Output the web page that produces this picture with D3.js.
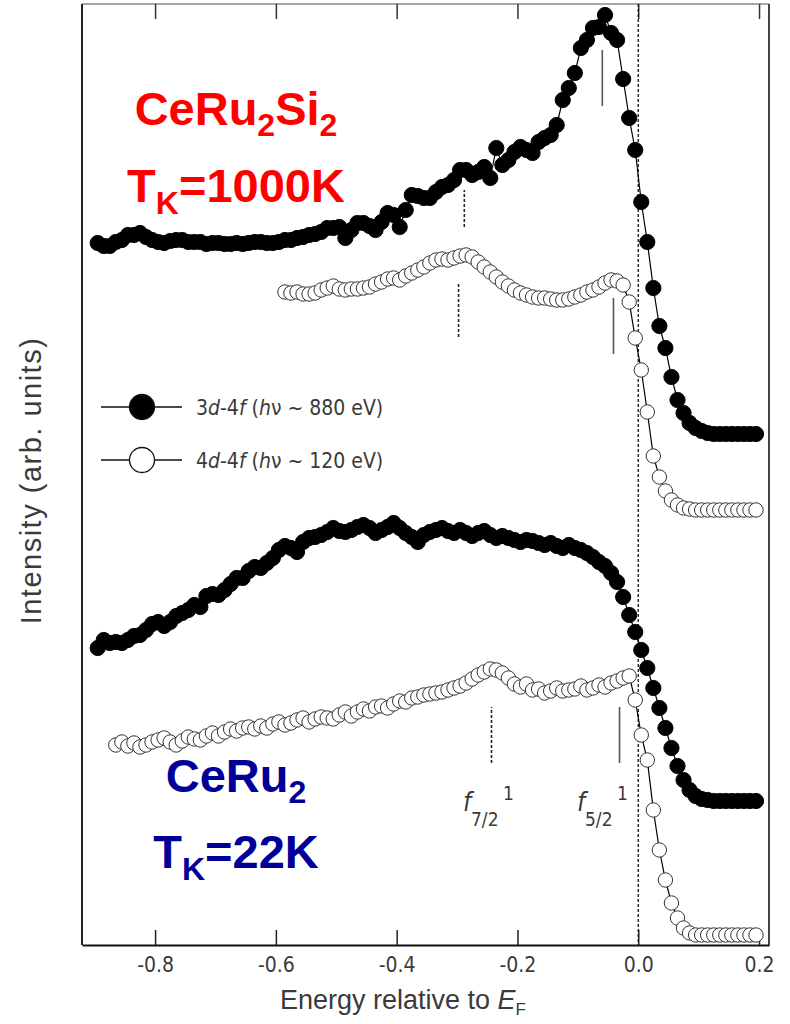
<!DOCTYPE html>
<html>
<head>
<meta charset="utf-8">
<script src="https://cdn.jsdelivr.net/npm/d3@7"></script>
<style>
  body { margin: 0; background: #fff; }
  svg { display: block; }
  .narrow { font-family: "Liberation Sans Narrow", "DejaVu Sans Condensed", "Roboto Condensed", sans-serif; font-stretch: condensed; }
  .plain { font-family: "Liberation Sans", Arial, sans-serif; }
</style>
</head>
<body>
<svg id="chart"></svg>
<script>
// energy grid (eV, relative to E_F)
const energy = [
  -0.895, -0.885, -0.875, -0.865, -0.855, -0.845, -0.835, -0.825, -0.815, -0.805,
  -0.795, -0.785, -0.775, -0.765, -0.755, -0.745, -0.735, -0.725, -0.715, -0.705,
  -0.695, -0.685, -0.675, -0.665, -0.655, -0.645, -0.635, -0.625, -0.615, -0.605,
  -0.595, -0.585, -0.575, -0.565, -0.555, -0.545, -0.535, -0.525, -0.515, -0.505,
  -0.495, -0.485, -0.475, -0.465, -0.455, -0.445, -0.435, -0.425, -0.415, -0.405,
  -0.395, -0.385, -0.375, -0.365, -0.355, -0.345, -0.335, -0.325, -0.315, -0.305,
  -0.295, -0.285, -0.275, -0.265, -0.255, -0.245, -0.235, -0.225, -0.215, -0.205,
  -0.195, -0.185, -0.175, -0.165, -0.155, -0.145, -0.135, -0.125, -0.115, -0.105,
  -0.095, -0.085, -0.075, -0.065, -0.055, -0.045, -0.035, -0.025, -0.015, -0.005,
  0.005, 0.015, 0.025, 0.035, 0.045, 0.055, 0.065, 0.075, 0.085, 0.095,
  0.105, 0.115, 0.125, 0.135, 0.145, 0.155, 0.165, 0.175, 0.185, 0.195];

// CeRu2Si2, 3d-4f (filled), full grid
const ceru2si2_3d = [
  702, 699, 699, 703, 705, 710, 710, 712, 708, 705,
  703, 702, 704, 705, 705, 703, 703, 703, 701, 702,
  702, 701, 701, 702, 701, 702, 703, 703, 702, 702,
  703, 705, 705, 707, 708, 710, 711, 713, 717, 717,
  718, 707, 715, 722, 722, 719, 715, 723, 732, 730,
  718, 735, 750, 749, 747, 747, 753, 758, 760, 765,
  775, 775, 770, 773, 778, 767, 797, 780, 785, 793,
  798, 795, 792, 803, 807, 810, 820, 845, 857, 872,
  897, 905, 917, 918, 930, 912, 905, 866, 827, 795,
  743, 703, 657, 619, 597, 568, 545, 532, 522, 517,
  514, 512, 511, 511, 511, 511, 511, 511, 511, 511];

// CeRu2Si2, 4d-4f (open), starts at -0.585
const ceru2si2_4d_start = 31;
const ceru2si2_4d = [
  653, 652, 653, 651, 651, 652, 655, 657, 659, 656,
  655, 656, 656, 657, 658, 661, 663, 666, 667, 665,
  669, 672, 675, 678, 682, 685, 686, 685, 687, 689,
  690, 688, 683, 678, 673, 668, 663, 659, 655, 652,
  650, 648, 647, 647, 646, 645, 645, 646, 648, 650,
  653, 655, 658, 662, 665, 664, 660, 643, 607,
  575, 533, 489, 468, 454, 445, 440, 437, 436,
  435, 435, 435, 435, 435, 435, 435, 435, 435, 435, 435];

// CeRu2, 3d-4f (filled), full grid
const ceru2_3d = [
  297, 305, 302, 303, 302, 305, 309, 310, 315, 321,
  323, 319, 323, 329, 332, 335, 340, 338, 349, 351,
  350, 355, 361, 367, 367, 374, 378, 377, 382, 387,
  395, 399, 397, 393, 403, 407, 408, 410, 413, 417,
  414, 413, 415, 418, 420, 417, 412, 415, 418, 422,
  417, 412, 408, 403, 410, 413, 415, 417, 414, 412,
  415, 412, 409, 412, 414, 410, 407, 409, 407, 405,
  403, 405, 404, 402, 400, 402, 399, 397, 400, 397,
  395, 392, 388, 383, 379, 372, 363, 348, 330, 313,
  295, 277, 257, 237, 217, 197, 179, 165, 155, 149,
  146, 145, 144, 144, 144, 144, 144, 144, 144, 144];

// CeRu2, 4d-4f (open), starts at -0.865
const ceru2_4d_start = 3;
const ceru2_4d = [
  200, 203, 199, 202, 198, 200, 203, 205, 207,
  203, 200, 204, 208, 206, 205, 209, 212, 209, 213,
  216, 214, 217, 218, 216, 219, 217, 221, 223, 220,
  222, 225, 227, 223, 226, 228, 227, 226, 230, 233,
  229, 233, 236, 234, 238, 239, 237, 241, 244, 243,
  247, 248, 250, 251, 252, 253, 255, 257, 259, 262,
  266, 270, 273, 276, 275, 272, 267, 261, 258, 261,
  255, 256, 252, 254, 257, 254, 255, 256, 259, 255,
  257, 260, 258, 262, 264, 267, 269, 245,
  210, 185, 135, 95, 65, 42, 27, 17, 12, 10,
  10, 10, 10, 10, 10, 10, 10, 10, 10, 10];

// peak position marks: energy, intensity from/to, dashed?
const marks = [
  { e: -0.0595, i0: 839, i1: 895, dashed: false },
  { e: -0.288, i0: 718, i1: 755, dashed: true },
  { e: -0.2975, i0: 608, i1: 663, dashed: true },
  { e: -0.041, i0: 591, i1: 647, dashed: false },
  { e: -0.243, i0: 182, i1: 238, dashed: true },
  { e: -0.031, i0: 182, i1: 238, dashed: false }];

const xTicks = [-0.8, -0.6, -0.4, -0.2, 0.0, 0.2];

const WIDTH = 790;
const HEIGHT = 1024;
const MARGIN = { top: 4, right: 21, bottom: 79, left: 82 };
const GRAY = "#3a3a3a";

const svg = d3.select("#chart")
  .attr("width", WIDTH)
  .attr("height", HEIGHT);

const xScale = d3.scaleLinear()
  .domain([-0.921, 0.2165])
  .range([MARGIN.left, WIDTH - MARGIN.right]);

const yScale = d3.scaleLinear()
  .domain([0, 941])
  .range([HEIGHT - MARGIN.bottom, MARGIN.top]);

const x0 = xScale.range()[0], x1 = xScale.range()[1];
const yb = yScale.range()[0], yt = yScale.range()[1];

// frame
svg.append("line").attr("x1", x0).attr("x2", x1).attr("y1", yt).attr("y2", yt)
  .style("stroke", "#888").style("stroke-width", 1.5);
svg.append("line").attr("x1", x1).attr("x2", x1).attr("y1", yt).attr("y2", yb)
  .style("stroke", "#444").style("stroke-width", 2);
svg.append("line").attr("x1", x0).attr("x2", x0).attr("y1", yt).attr("y2", yb)
  .style("stroke", "#222").style("stroke-width", 2);

// bottom axis, ticks inward
const axisBottom = d3.axisBottom(xScale)
  .tickValues(xTicks)
  .tickSizeInner(-15)
  .tickSizeOuter(0)
  .tickPadding(12)
  .tickFormat(d => d.toFixed(1));

const gx = svg.append("g")
  .attr("class", "narrow")
  .attr("transform", `translate(0, ${yb})`)
  .call(axisBottom);
gx.select(".domain").style("stroke", "#111").style("stroke-width", 2);
gx.selectAll(".tick line").style("stroke", "#222").style("stroke-width", 1.5);
gx.selectAll(".tick text").style("font-size", "21px").style("fill", GRAY);

// top ticks
const axisTop = d3.axisTop(xScale)
  .tickValues(xTicks)
  .tickSizeInner(-15)
  .tickSizeOuter(0)
  .tickFormat("");
const gt = svg.append("g")
  .attr("transform", `translate(0, ${yt})`)
  .call(axisTop);
gt.select(".domain").remove();
gt.selectAll(".tick line").style("stroke", "#333").style("stroke-width", 1.5);

// E_F line
svg.append("line")
  .attr("x1", xScale(0)).attr("x2", xScale(0))
  .attr("y1", yt).attr("y2", yb)
  .style("stroke", "#111").style("stroke-width", 1.3)
  .style("stroke-dasharray", "3,2");

// peak marks
svg.selectAll(".mark")
  .data(marks)
  .enter()
  .append("line")
  .attr("class", "mark")
  .attr("x1", d => xScale(d.e)).attr("x2", d => xScale(d.e))
  .attr("y1", d => yScale(d.i0)).attr("y2", d => yScale(d.i1))
  .style("stroke", d => d.dashed ? "#222" : "#555")
  .style("stroke-width", 1.6)
  .style("stroke-dasharray", d => d.dashed ? "3,2" : null);

// series
function toPoints(values, start) {
  return values.map((v, k) => ({ e: energy[start + k], i: v }));
}
const series = [
  { pts: toPoints(ceru2si2_4d, ceru2si2_4d_start), filled: false },
  { pts: toPoints(ceru2_4d, ceru2_4d_start), filled: false },
  { pts: toPoints(ceru2si2_3d, 0), filled: true },
  { pts: toPoints(ceru2_3d, 0), filled: true }];

const line = d3.line().x(d => xScale(d.e)).y(d => yScale(d.i));

for (const s of series) {
  svg.append("path")
    .datum(s.pts)
    .attr("d", line)
    .style("fill", "none")
    .style("stroke", "#000")
    .style("stroke-width", 1.2);
  svg.append("g")
    .selectAll("circle")
    .data(s.pts)
    .enter()
    .append("circle")
    .attr("cx", d => xScale(d.e))
    .attr("cy", d => yScale(d.i))
    .attr("r", s.filled ? 7.6 : 7.2)
    .style("fill", s.filled ? "#000" : "#fff")
    .style("stroke", s.filled ? "#000" : "#333")
    .style("stroke-width", 1);
}

// legend
const legend = svg.append("g").attr("class", "narrow");
const legendItems = [
  { filled: true, num: "3", nu: "880", y: 407 },
  { filled: false, num: "4", nu: "120", y: 460 }];
for (const it of legendItems) {
  legend.append("line")
    .attr("x1", 101).attr("x2", 182).attr("y1", it.y).attr("y2", it.y)
    .style("stroke", "#111").style("stroke-width", 1.3);
  legend.append("circle")
    .attr("cx", 142).attr("cy", it.y).attr("r", 12.5)
    .style("fill", it.filled ? "#000" : "#fff")
    .style("stroke", "#111").style("stroke-width", 1.3);
  const t = legend.append("text")
    .attr("x", 196).attr("y", it.y + 8)
    .style("font-size", "21px").style("fill", GRAY);
  t.append("tspan").text(it.num);
  t.append("tspan").style("font-style", "italic").text("d");
  t.append("tspan").text("-4");
  t.append("tspan").style("font-style", "italic").text("f");
  t.append("tspan").text(" (");
  t.append("tspan").style("font-style", "italic").text("h");
  t.append("tspan").text("\u03bd ~ " + it.nu + " eV)");
}

// f labels
const fLabels = [
  { x: 463, sub: "7/2", sup: 503 },
  { x: 577, sub: "5/2", sup: 617 }];
const fl = svg.append("g").attr("class", "narrow").style("fill", GRAY);
for (const f of fLabels) {
  fl.append("text").attr("x", f.x).attr("y", 811)
    .style("font-size", "26px").style("font-style", "italic").text("f");
  fl.append("text").attr("x", f.x + 8).attr("y", 826)
    .style("font-size", "19px").text(f.sub);
  fl.append("text").attr("x", f.sup).attr("y", 800)
    .style("font-size", "19px").text("1");
}

// axis titles
svg.append("text")
  .attr("class", "plain")
  .attr("transform", `translate(31, ${(yt + yb) / 2 + 6}) rotate(-90)`)
  .attr("text-anchor", "middle")
  .attr("dominant-baseline", "central")
  .style("font-size", "29px").style("letter-spacing", "1.5px").style("fill", GRAY)
  .text("Intensity (arb. units)");

const xt = svg.append("text")
  .attr("class", "plain")
  .attr("x", 403).attr("y", 1009)
  .attr("text-anchor", "middle")
  .style("font-size", "27px").style("fill", GRAY);
xt.append("tspan").text("Energy relative to ");
xt.append("tspan").style("font-style", "italic").text("E");
xt.append("tspan").attr("dy", 6).style("font-size", "17px").text("F");

// sample labels
function sampleLabel(cx, y1, y2, color, formula, tk) {
  const g = svg.append("g")
    .style("font-family", "'Liberation Sans', Arial, sans-serif")
    .style("font-weight", "bold")
    .style("fill", color);
  const a = g.append("text").attr("x", cx).attr("y", y1)
    .attr("text-anchor", "middle").style("font-size", "47px");
  for (const [txt, sub] of formula) {
    a.append("tspan").attr("dy", sub ? 11 : (a.selectAll("tspan").size() ? -11 : 0))
      .style("font-size", sub ? "32px" : "47px").text(txt);
  }
  const b = g.append("text").attr("x", cx).attr("y", y2)
    .attr("text-anchor", "middle").style("font-size", "47px");
  b.append("tspan").text("T");
  b.append("tspan").attr("dy", 12).style("font-size", "32px").text("K");
  b.append("tspan").attr("dy", -12).text("=" + tk);
}
sampleLabel(236, 136, 202, "#ff0000", [["CeRu", false], ["2", true], ["Si", false], ["2", true]], "1000K");
sampleLabel(236, 803, 868, "#000099", [["CeRu", false], ["2", true]], "22K");
</script>
</body>
</html>
